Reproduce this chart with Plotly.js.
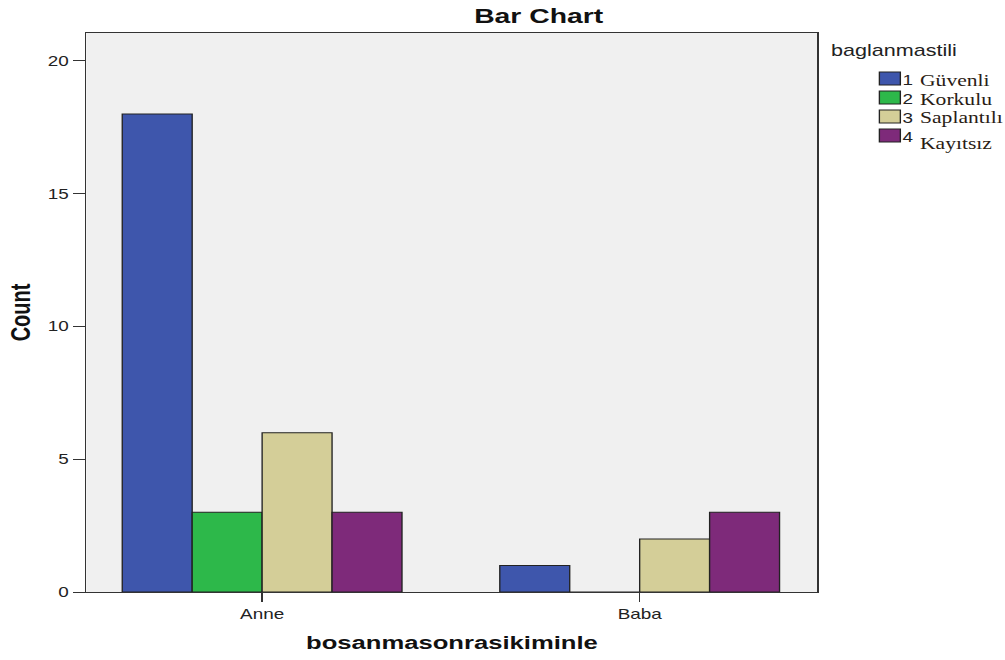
<!DOCTYPE html>
<html><head><meta charset="utf-8">
<script src="https://cdn.plot.ly/plotly-3.0.1.min.js"></script>
<style>
html,body{margin:0;padding:0;background:#fff;overflow:hidden;width:1005px;height:660px}
#c{width:745px;height:660px;transform:scaleX(1.349);transform-origin:0 0}
</style>
</head><body><div id="c"></div>
<script>
const categories = ["Anne", "Baba"];
const seriesNumbers = ["1", "2", "3", "4"];
const seriesLabels = ["Güvenli", "Korkulu", "Saplantılı", "Kayıtsız"];
const guvenli = [18, 1];
const korkulu = [3, 0];
const saplantili = [6, 2];
const kayitsiz = [3, 3];
const yTicks = [0, 5, 10, 15, 20];

const values = [guvenli, korkulu, saplantili, kayitsiz];
const colors = ["#3e56ac", "#2db84a", "#d4ce98", "#7e2a7a"];

// geometry (unscaled page px); the page is stretched horizontally by S
const S = 1.349, W0 = 745, H0 = 660;
const mL = 63.75, mR = W0 - 606.4, mT = 33, mB = H0 - 592;
const PW = W0 - mL - mR, PH = H0 - mT - mB;
const fx = xs => (xs / S - mL) / PW;       // screen x -> paper
const fy = y => (H0 - mB - y) / PH;        // screen y -> paper

const traces = seriesLabels.map((n, i) => ({
  type: "bar", x: categories, y: values[i],
  name: seriesNumbers[i] + " " + n,
  marker: {color: colors[i], line: {color: "#222", width: 1}},
  hoverinfo: "x+y+name", showlegend: false
}));

const shapes = [];
const annotations = [{
  text: "baglanmastili", xref: "paper", yref: "paper", x: fx(829), y: fy(51), xanchor: "left", yanchor: "middle",
  showarrow: false, font: {family: "Liberation Sans, Arial", size: 16, color: "#222"}
}];
seriesLabels.forEach((n, i) => {
  const cy = 78.5 + 19 * i;
  shapes.push({type: "rect", xref: "paper", yref: "paper", x0: fx(880), x1: fx(901), y0: fy(cy - 6.5), y1: fy(cy + 6.5),
    fillcolor: colors[i], line: {color: "#222", width: 1}});
  annotations.push({text: seriesNumbers[i], xref: "paper", yref: "paper", x: fx(901), y: fy(cy + 2), xanchor: "left", yanchor: "middle",
    showarrow: false, font: {family: "Liberation Sans, Arial", size: 14, color: "#222"}});
  annotations.push({text: n, xref: "paper", yref: "paper", x: fx(918), y: fy(cy + 2 + (i === 3 ? 6 : 0)), xanchor: "left", yanchor: "middle",
    showarrow: false, font: {family: "Liberation Serif, Times New Roman", size: 16, color: "#2a1c14"}});
});

const layout = {
  width: W0, height: H0,
  margin: {l: mL, r: mR, t: mT, b: mB},
  paper_bgcolor: "#fff", plot_bgcolor: "#f0f0f0",
  barmode: "group", bargap: 0.259, bargroupgap: 0,
  title: {text: "<b>Bar Chart</b>", font: {family: "Liberation Sans, Arial", size: 21, color: "#111"},
    xref: "container", x: 0.536, xanchor: "center", yref: "container", y: 1 - 16 / H0, yanchor: "middle"},
  xaxis: {range: [-0.4656, 1.471], showgrid: false, zeroline: false, ticks: "outside", ticklen: 9, tickcolor: "#333",
    showline: true, linecolor: "#333", linewidth: 1.3, mirror: true, fixedrange: true,
    tickfont: {family: "Liberation Sans, Arial", size: 14, color: "#222"},
    title: {text: "<b>bosanmasonrasikiminle</b>", font: {family: "Liberation Sans, Arial", size: 19, color: "#111"}, standoff: 14}},
  yaxis: {range: [0, 21.05], tickvals: yTicks, showgrid: false, zeroline: false, ticks: "outside", ticklen: 9, tickcolor: "#333",
    showline: true, linecolor: "#333", linewidth: 1.3, mirror: true, fixedrange: true,
    tickfont: {family: "Liberation Sans, Arial", size: 14, color: "#222"},
    title: {text: "<b>Count</b>", font: {family: "Liberation Sans, Arial", size: 20, color: "#111"}, standoff: 7}},
  showlegend: false,
  shapes: shapes,
  annotations: annotations
};
Plotly.newPlot("c", traces, layout, {displayModeBar: false});
</script></body></html>
